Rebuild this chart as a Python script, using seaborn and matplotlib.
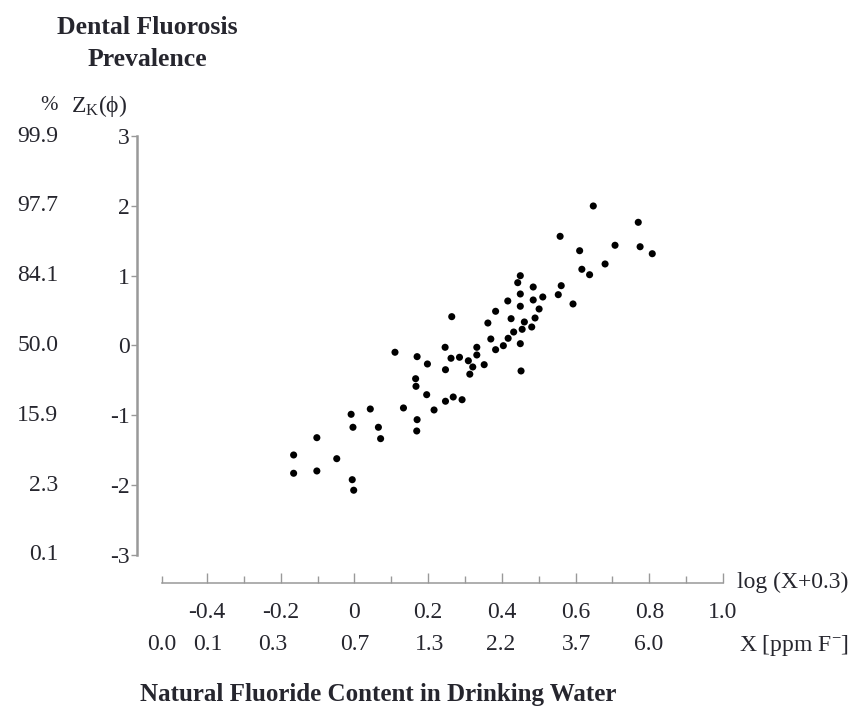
import numpy as np
import matplotlib
matplotlib.use("Agg")
import matplotlib.pyplot as plt
import matplotlib.transforms as mtransforms
import seaborn as sns

# log(X+0.3) vs probit Z
log_x = [-0.165, -0.165, -0.102, -0.102, -0.048, -0.009, -0.004, -0.006, -0.002, 0.043,
         0.065, 0.071, 0.110, 0.133, 0.166, 0.167, 0.170, 0.170, 0.169, 0.196,
         0.198, 0.216, 0.246, 0.247, 0.247, 0.262, 0.264, 0.268, 0.285, 0.292,
         0.309, 0.313, 0.321, 0.332, 0.332, 0.352, 0.362, 0.370, 0.383, 0.383,
         0.404, 0.416, 0.417, 0.425, 0.432, 0.443, 0.450, 0.450, 0.450, 0.450,
         0.452, 0.455, 0.461, 0.481, 0.485, 0.485, 0.490, 0.501, 0.511, 0.553,
         0.558, 0.561, 0.593, 0.611, 0.617, 0.638, 0.648, 0.680, 0.707, 0.770,
         0.775, 0.808]
z_k = [-1.569, -1.831, -1.321, -1.798, -1.622, -0.986, -1.172, -1.923, -2.074, -0.910,
       -1.172, -1.335, -0.097, -0.895, -0.476, -0.585, -0.160, -1.063, -1.225, -0.705,
       -0.265, -0.924, -0.026, -0.347, -0.799, -0.183, 0.413, -0.738, -0.169, -0.777,
       -0.219, -0.411, -0.308, -0.026, -0.136, -0.275, 0.322, 0.093, 0.490, -0.060,
       -0.003, 0.638, 0.103, 0.384, 0.193, 0.900, 1.000, 0.738, 0.562, 0.026,
       -0.365, 0.232, 0.337, 0.265, 0.838, 0.652, 0.394, 0.523, 0.695, 0.728,
       1.564, 0.857, 0.595, 1.358, 1.092, 1.014, 1.999, 1.168, 1.436, 1.765,
       1.415, 1.315]

z_ticks = [3, 2, 1, 0, -1, -2, -3]
z_labels = ["3", "2", "1", "0", "-1", "-2", "-3"]
pct_labels = ["99.9", "97.7", "84.1", "50.0", "15.9", "2.3", "0.1"]
log_ticks = [-0.4, -0.2, 0, 0.2, 0.4, 0.6, 0.8, 1.0]
log_labels = ["-0.4", "-0.2", "0", "0.2", "0.4", "0.6", "0.8", "1.0"]
ppm_values = [0.0, 0.1, 0.3, 0.7, 1.3, 2.2, 3.7, 6.0]

sns.set_theme(style="white")
plt.rcParams["font.family"] = ["Liberation Serif", "DejaVu Serif"]
plt.rcParams["mathtext.fontset"] = "custom"
plt.rcParams["mathtext.rm"] = "Liberation Serif"
plt.rcParams["mathtext.it"] = "Liberation Serif:italic"
txt = "#26262e"
axis_col = "#999999"
fs = 17

fig = plt.figure(figsize=(8.55, 7.10), dpi=100)
ax = fig.add_axes([0.1559, 0.1792, 0.7113, 0.634])

sns.scatterplot(x=log_x, y=z_k, ax=ax, color="black", s=26, edgecolor="none", linewidth=0)

ax.set_xlim(-0.60, 1.05)
ax.set_ylim(-3.40, 3.05)

for s in ["top", "right"]:
    ax.spines[s].set_visible(False)
ax.spines["left"].set_position(("data", -0.59))
ax.spines["left"].set_bounds(-3, 3)
ax.spines["bottom"].set_bounds(np.log10(0.3), 1.0)
ax.spines["left"].set_color(axis_col)
ax.spines["bottom"].set_color(axis_col)
ax.spines["left"].set_linewidth(1.8)
ax.spines["bottom"].set_linewidth(1.1)

ax.set_yticks(z_ticks)
ax.set_yticklabels(z_labels)
ax.tick_params(axis="y", direction="out", length=4, width=1, color=axis_col,
               pad=1, labelsize=fs, labelcolor=txt, left=True)

ax.set_xticks(log_ticks)
ax.set_xticklabels(log_labels)
minor = [np.log10(0.3), -0.3, -0.1, 0.1, 0.3, 0.5, 0.7, 0.9]
ax.set_xticks(minor, minor=True)
ax.tick_params(axis="x", which="major", direction="in", length=7, width=1, color=axis_col,
               pad=14, labelsize=fs, labelcolor=txt, bottom=True)
ax.tick_params(axis="x", which="minor", direction="in", length=5, width=1, color=axis_col,
               bottom=True)
ax.set_xlabel("")
ax.set_ylabel("")

# percent column on the left
pct_trans = mtransforms.blended_transform_factory(fig.transFigure, ax.transData)
for z, p in zip(z_ticks, pct_labels):
    ax.text(0.068, z, p, transform=pct_trans, ha="right", va="center",
            fontsize=fs, color=txt, clip_on=False)

# ppm row under the log axis
ppm_trans = mtransforms.blended_transform_factory(ax.transData, fig.transFigure)
for v in ppm_values:
    ax.text(np.log10(v + 0.3), (710 - 645) / 710, f"{v:.1f}", transform=ppm_trans,
            ha="center", va="center", fontsize=fs, color=txt, clip_on=False)

fig.text(147 / 855, 1 - 28 / 710, "Dental Fluorosis", ha="center", va="center",
         fontsize=18.5, color=txt, fontweight="semibold")
fig.text(147 / 855, 1 - 60 / 710, "Prevalence", ha="center", va="center",
         fontsize=18.5, color=txt, fontweight="semibold")
fig.text(58 / 855, 1 - 106 / 710, "%", ha="right", va="center", fontsize=15, color=txt)
fig.text(71 / 855, 1 - 106 / 710, r"Z$_{\mathregular{K}}$(ϕ)", ha="left", va="center",
         fontsize=fs, color=txt)
fig.text(737 / 855, 1 - 582 / 710, "log (X+0.3)", ha="left", va="center",
         fontsize=fs, color=txt)
fig.text(739 / 855, 1 - 645 / 710, r"X [ppm F$^{\mathregular{-}}$]", ha="left", va="center",
         fontsize=fs, color=txt)
fig.text(378 / 855, 1 - 695 / 710, "Natural Fluoride Content in Drinking Water",
         ha="center", va="center", fontsize=18, color=txt, fontweight="semibold")

fig.savefig("out.png", dpi=100)
